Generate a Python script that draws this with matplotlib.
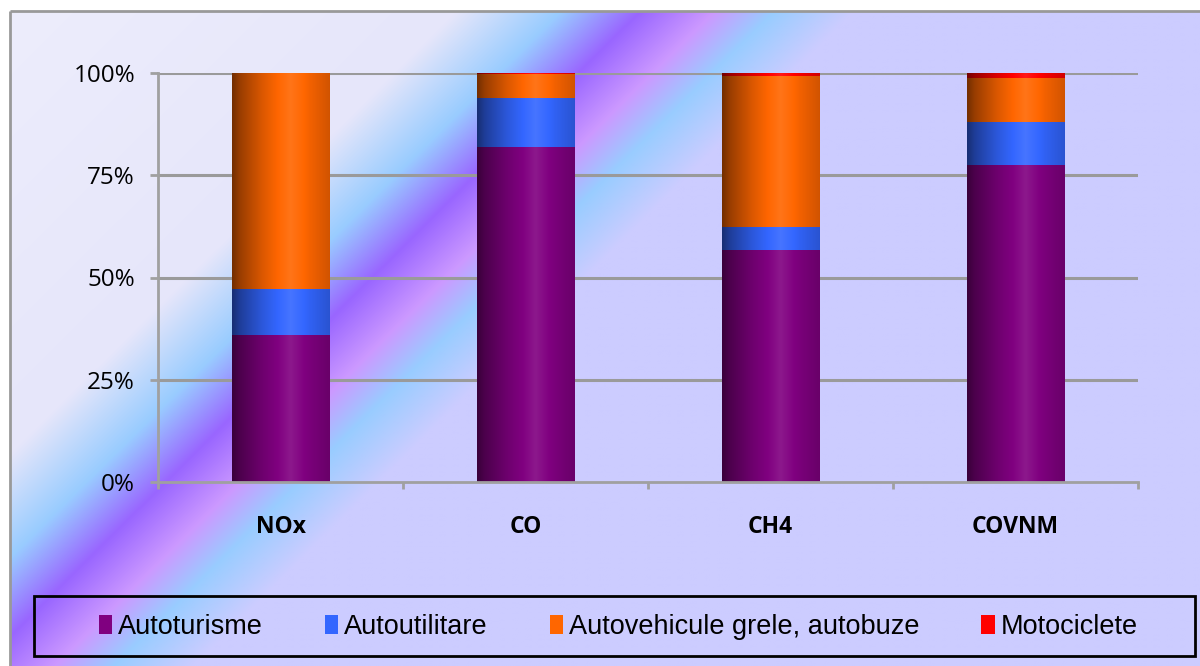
import numpy as np
import matplotlib
matplotlib.use("Agg")
import matplotlib.pyplot as plt
from matplotlib.colors import to_rgb
from matplotlib.patches import Rectangle

# ---------------- data ----------------
categories = ["NOx", "CO", "CH4", "COVNM"]
series_names = ["Autoturisme", "Autoutilitare", "Autovehicule grele, autobuze", "Motociclete"]
autoturisme = [35.9, 81.9, 56.7, 77.5]
autoutilitare = [11.3, 12.0, 5.6, 10.6]
grele = [52.8, 5.8, 36.9, 10.6]
motociclete = [0.0, 0.3, 0.8, 1.3]
y_ticks = [0, 25, 50, 75, 100]
y_tick_labels = ["0%", "25%", "50%", "75%", "100%"]

series_values = [autoturisme, autoutilitare, grele, motociclete]
series_colors = ["#800080", "#3366FF", "#FF6600", "#FF0000"]

W, H = 1200, 666
fig = plt.figure(figsize=(W / 100, H / 100), dpi=100)
fig.patch.set_facecolor("white")

# ---------------- background gradient ----------------
bg = fig.add_axes([0, 0, 1, 1], zorder=-10)
bg.set_xlim(0, W)
bg.set_ylim(H, 0)
bg.axis("off")
xx, yy = np.meshgrid(np.arange(W), np.arange(H))
t = xx + 1.0 * yy
stops_t = [0, 450, 555, 635, 710, 770, 850, 3000]
stops_c = ["#EDEDFC", "#E6E6FA", "#99CCFF", "#9966FF", "#CC99FF", "#99CCFF", "#CCCCFF", "#CCCCFF"]
rgb = np.array([to_rgb(c) for c in stops_c])
img = np.zeros((H, W, 3))
for k in range(3):
    img[..., k] = np.interp(t, stops_t, rgb[:, k])
bg.imshow(img, extent=(10, W, H, 11), aspect="auto", interpolation="bilinear")
bg.plot([10, W], [11, 11], color="#999999", lw=2, solid_capstyle="butt")
bg.plot([10, 10], [11, H], color="#999999", lw=2, solid_capstyle="butt")

# ---------------- main axes ----------------
ax = fig.add_axes([158 / W, 1 - 482 / H, (1138 - 158) / W, (482 - 73) / H])
ax.set_facecolor("none")
x = np.arange(len(categories))

for yv in y_ticks[1:]:
    ax.axhline(yv, color="#9A9A9A", lw=2.2, zorder=1)


def shade_img(color):
    base = np.array(to_rgb(color))
    u = np.linspace(0, 1, 200)
    f = np.interp(u, [0, 0.08, 0.3, 0.6, 0.8, 1.0], [0.45, 0.6, 0.85, 1.12, 0.95, 0.82])
    out = np.zeros((1, len(u), 3))
    for i, fv in enumerate(f):
        if fv <= 1:
            c = base * fv
        else:
            c = base + (1 - base) * (fv - 1) * 0.8
        out[0, i] = np.clip(c, 0, 1)
    return out


bottom = np.zeros(len(categories))
bar_w = 0.4
for name, vals, col in zip(series_names, series_values, series_colors):
    vals = np.array(vals, dtype=float)
    bars = ax.bar(x, vals, bar_w, bottom=bottom, color=col, edgecolor="none", zorder=2, label=name)
    gimg = shade_img(col)
    for b in bars:
        if b.get_height() <= 0:
            continue
        bx, by = b.get_x(), b.get_y()
        im = ax.imshow(gimg, extent=(bx, bx + b.get_width(), by, by + b.get_height()),
                       aspect="auto", zorder=3, interpolation="bilinear")
        im.set_clip_path(b)
    bottom += vals

ax.set_xlim(-0.5, len(categories) - 0.5)
ax.set_ylim(0, 100)

for s in ["top", "right"]:
    ax.spines[s].set_visible(False)
for s in ["left", "bottom"]:
    ax.spines[s].set_color("#A0A0A0")
    ax.spines[s].set_linewidth(2)
    ax.spines[s].set_zorder(4)

ax.set_yticks(y_ticks)
ax.set_yticklabels(y_tick_labels, fontsize=17.5, fontfamily="Open Sans")
ax.tick_params(axis="y", length=6, width=2, color="#A0A0A0", pad=10.5)
ax.set_xticks(x)
ax.set_xticklabels(categories, fontsize=16.5, fontweight="bold", fontfamily="Open Sans")
ax.tick_params(axis="x", which="major", length=0, pad=24)
ax.set_xticks(np.arange(-0.5, len(categories), 1.0), minor=True)
ax.tick_params(axis="x", which="minor", length=5, width=2, color="#A0A0A0")

# ---------------- legend ----------------
fig.add_artist(Rectangle((34 / W, 1 - 656 / H), (1195 - 34) / W, (656 - 596) / H,
                         transform=fig.transFigure, facecolor="none", edgecolor="black", lw=2))
handles = [Rectangle((0, 0), 1, 1, facecolor=c, edgecolor="none") for c in series_colors]
leg = fig.legend(handles, series_names, loc="center", bbox_to_anchor=(618 / W, 1 - 627 / H),
                 ncol=4, frameon=False, prop={"family": "Liberation Sans", "size": 19.5},
                 handlelength=0.5, handleheight=0.7, handletextpad=0.2, columnspacing=2.3)

fig.savefig("out.png", dpi=100)
